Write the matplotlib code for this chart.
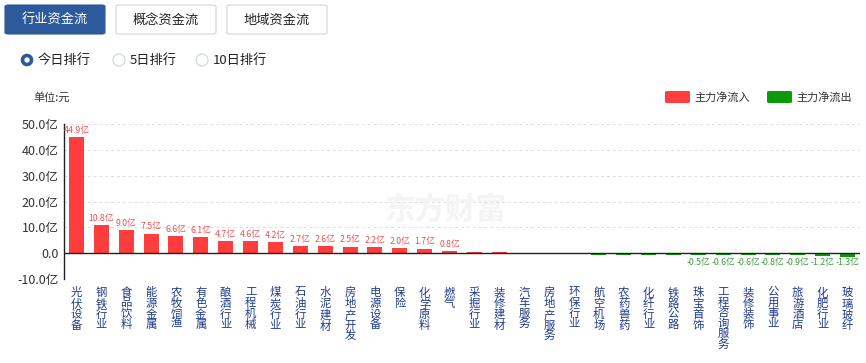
import matplotlib
matplotlib.use("Agg")
import matplotlib.pyplot as plt
from matplotlib.patches import FancyBboxPatch, Ellipse
import numpy as np

plt.rcParams['font.family'] = ['Noto Sans CJK SC', 'DejaVu Sans']

# data (亿元)
categories = ['光伏设备', '钢铁行业', '食品饮料', '能源金属', '农牧饲渔', '有色金属',
              '酿酒行业', '工程机械', '煤炭行业', '石油行业', '水泥建材', '房地产开发',
              '电源设备', '保险', '化学原料', '燃气', '采掘行业', '装修建材',
              '汽车服务', '房地产服务', '环保行业', '航空机场', '农药兽药', '化纤行业',
              '铁路公路', '珠宝首饰', '工程咨询服务', '装修装饰', '公用事业', '旅游酒店',
              '化肥行业', '玻璃玻纤']
values = [44.9, 10.8, 9.0, 7.5, 6.6, 6.1, 4.7, 4.6, 4.2, 2.7, 2.6, 2.5,
          2.2, 2.0, 1.7, 0.8, 0.3, 0.2, 0.05, -0.03, -0.06, -0.12, -0.16, -0.2,
          -0.3, -0.5, -0.6, -0.6, -0.8, -0.9, -1.2, -1.3]
yticks = [-10, 0, 10, 20, 30, 40, 50]

RED = '#ff3d3d'
GREEN = '#0a9a0a'
W, H = 866, 363

fig = plt.figure(figsize=(W / 100, H / 100), dpi=100)


def fx(px):
    return px / W


def fy(py):
    return 1 - py / H


# tabs
tabs = ['行业资金流', '概念资金流', '地域资金流']
for i, t in enumerate(tabs):
    x0 = 5 + i * 111
    active = i == 0
    box = FancyBboxPatch((fx(x0), fy(34)), fx(100), 29 / H,
                         boxstyle='round,pad=0,rounding_size=0.004',
                         transform=fig.transFigure,
                         facecolor='#2d5a9c' if active else 'white',
                         edgecolor='#2d5a9c' if active else '#cfd6df', lw=0.8)
    fig.patches.append(box)
    fig.text(fx(x0 + 50), fy(20), t, ha='center', va='center', fontsize=9.5,
             color='white' if active else '#222222')

# radio buttons
radios = [('今日排行', 27), ('5日排行', 119), ('10日排行', 202)]
for i, (t, cx) in enumerate(radios):
    if i == 0:
        dot = Ellipse((fx(cx), fy(60)), 9 / W, 9 / H, transform=fig.transFigure,
                      facecolor='white', edgecolor='#2d5a9c', lw=2.6)
    else:
        dot = Ellipse((fx(cx), fy(60)), 12 / W, 12 / H, transform=fig.transFigure,
                      facecolor='white', edgecolor='#c9d6e4', lw=0.8)
    fig.patches.append(dot)
    fig.text(fx(cx + 11), fy(60), t, ha='left', va='center', fontsize=9.5, color='#222222')

fig.text(fx(33), fy(97), '单位:元', ha='left', va='center', fontsize=8, color='#333333')

# legend
for (lab, col, x0) in [('主力净流入', RED, 665), ('主力净流出', GREEN, 767)]:
    fig.patches.append(FancyBboxPatch((fx(x0), fy(103)), fx(25), 12 / H,
                                      boxstyle='round,pad=0,rounding_size=0.003',
                                      transform=fig.transFigure, facecolor=col,
                                      edgecolor='none'))
    fig.text(fx(x0 + 29), fy(97), lab, ha='left', va='center', fontsize=8, color='#333333')

# watermark
fig.text(fx(445), fy(210), '东方财富', ha='center', va='center', fontsize=22,
         fontweight='bold', color='#f4f4f4', zorder=0)

ax = fig.add_axes([fx(64), fy(279), fx(860 - 64), (279 - 124) / H])
ax.patch.set_alpha(0)
x = np.arange(len(categories))
colors = [RED if v >= 0 else GREEN for v in values]
# echarts-like minimum bar height so tiny flows stay visible
heights = [np.sign(v) * max(abs(v), 0.6) if abs(v) >= 0.1 else v for v in values]
ax.bar(x, heights, width=0.6, color=colors, zorder=3)

for xi, v in zip(x, values):
    if v >= 0.5:
        ax.text(xi, v + 0.9, f'{v:.1f}亿', ha='center', va='bottom', fontsize=6.3,
                color='#e8514f')
    elif v <= -0.5:
        ax.text(xi, -1.9, f'{v:.1f}亿', ha='center', va='top', fontsize=6.3,
                color='#3a9a3a')

ax.set_xlim(-0.5, len(categories) - 0.5)
ax.set_ylim(-10, 50)
ax.set_yticks(yticks)
ax.set_yticklabels([f'{v:.1f}亿' if v != 0 else '0.0' for v in yticks],
                   fontsize=9, color='#333333')
ax.set_xticks(x)
ax.set_xticklabels(['\n'.join(c) for c in categories], fontsize=8.2, color='#1f3c8a',
                   va='top', linespacing=1.02)
ax.tick_params(axis='x', length=0, pad=6)
ax.tick_params(axis='y', length=0, pad=4)
for v in yticks:
    if v != 0:
        ax.axhline(v, color='#dddddd', lw=0.7, ls=(0, (3, 3)), zorder=1)
ax.axhline(0, color='#222222', lw=1, zorder=4)
for s in ['top', 'right', 'bottom']:
    ax.spines[s].set_visible(False)
ax.spines['left'].set_color('#222222')
ax.spines['left'].set_linewidth(1)

fig.savefig('out.png', dpi=100)
